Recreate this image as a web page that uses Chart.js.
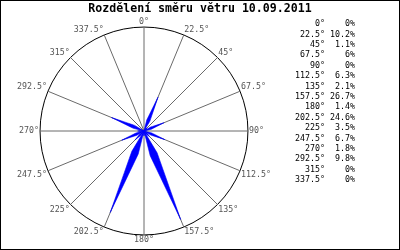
<!DOCTYPE html>
<html>
<head>
<meta charset="utf-8">
<script src="https://cdn.jsdelivr.net/npm/chart.js@4/dist/chart.umd.min.js"></script>
<style>
  html, body { margin: 0; padding: 0; background: #fff; }
  #wrap { position: relative; width: 400px; height: 250px; }
  #frame { position: absolute; left: 0; top: 0; width: 400px; height: 250px; box-sizing: border-box; border: 1px solid #000; pointer-events: none; }
</style>
</head>
<body>
<div id="wrap">
  <canvas id="c" width="400" height="250"></canvas>
  <div id="frame"></div>
</div>
<script>
// ---- data ----
const titleText = 'Rozdělení směru větru 10.09.2011';
const directions = ['0°','22.5°','45°','67.5°','90°','112.5°','135°','157.5°',
                    '180°','202.5°','225°','247.5°','270°','292.5°','315°','337.5°'];
const frequency  = [0, 10.2, 1.1, 6, 0, 6.3, 2.1, 26.7, 1.4, 24.6, 3.5, 6.7, 1.8, 9.8, 0, 0];
const scaleMax = 29;

// ---- petal geometry (style only): each direction is drawn as a narrow kite ----
const SUB = 8;               // radar vertices per direction
const SHOULDER_SHARE = 0.24; // shoulder radius as share of the petal length
const SHOULDER_MIN = 0.7;    // extra shoulder radius so small petals stay visible

function petal(v) {
  if (!v) return [0, 0, 0, 0];
  const step = 2 * Math.PI / (directions.length * SUB);
  const d = 3 * step;
  const s = v * SHOULDER_SHARE + SHOULDER_MIN;
  // radius of the straight edge tip->shoulder along the in-between spokes
  const edge = (phi) => (v * s * Math.sin(d)) /
    (s * Math.sin(d) * Math.cos(phi) - Math.sin(phi) * (s * Math.cos(d) - v));
  return [v, edge(step), edge(2 * step), s];
}

const radarLabels = [];
const radarValues = [];
directions.forEach((d, i) => {
  const cur = petal(frequency[i]);
  const nxt = petal(frequency[(i + 1) % frequency.length]);
  radarLabels.push(d, '', '', '', '', '', '', '');
  radarValues.push(cur[0], cur[1], cur[2], cur[3], 0, nxt[3], nxt[2], nxt[1]);
});

const MONO = "'DejaVu Sans Mono', 'Liberation Mono', monospace";

new Chart(document.getElementById('c'), {
  type: 'radar',
  data: {
    labels: radarLabels,
    datasets: [{
      data: radarValues,
      fill: true,
      backgroundColor: '#0000ff',
      borderColor: '#0000ff',
      borderWidth: 0.6,
      pointRadius: 0,
      pointHoverRadius: 0
    }]
  },
  options: {
    responsive: false,
    animation: false,
    devicePixelRatio: 1,
    layout: { padding: { top: 0, bottom: 5, left: 0, right: 0 } },
    plugins: {
      title: {
        display: true,
        text: titleText,
        color: '#000',
        font: { family: MONO, size: 11.6, weight: 'bold', lineHeight: 1.2 },
        padding: { top: 2.5, bottom: 1.33 }
      },
      tooltip: { enabled: false },
      legend: {
        display: true,
        position: 'right',
        align: 'start',
        fullSize: false,
        labels: {
          boxWidth: 0,
          padding: 2.1,
          color: '#000',
          font: { family: MONO, size: 8.3, lineHeight: 1 },
          generateLabels: () => directions.map((d, i) => ({
            text: d.padStart(6, ' ') + ' ' + (String(frequency[i]) + '%').padStart(5, ' ') + '       ',
            fillStyle: 'rgba(0,0,0,0)',
            strokeStyle: 'rgba(0,0,0,0)',
            lineWidth: 0,
            hidden: false,
            fontColor: '#000',
            datasetIndex: 0
          }))
        }
      }
    },
    scales: {
      r: {
        min: 0,
        max: scaleMax,
        ticks: { display: false, stepSize: scaleMax },
        grid: { circular: true, color: '#000', lineWidth: 1 },
        angleLines: {
          color: '#6a6a6a',
          lineWidth: (ctx) => (ctx.index % SUB === 0 ? 1 : 0)
        },
        pointLabels: {
          padding: 1,
          color: '#555555',
          font: { family: MONO, size: 8.3, lineHeight: 1 }
        }
      }
    }
  }
});
</script>
</body>
</html>
